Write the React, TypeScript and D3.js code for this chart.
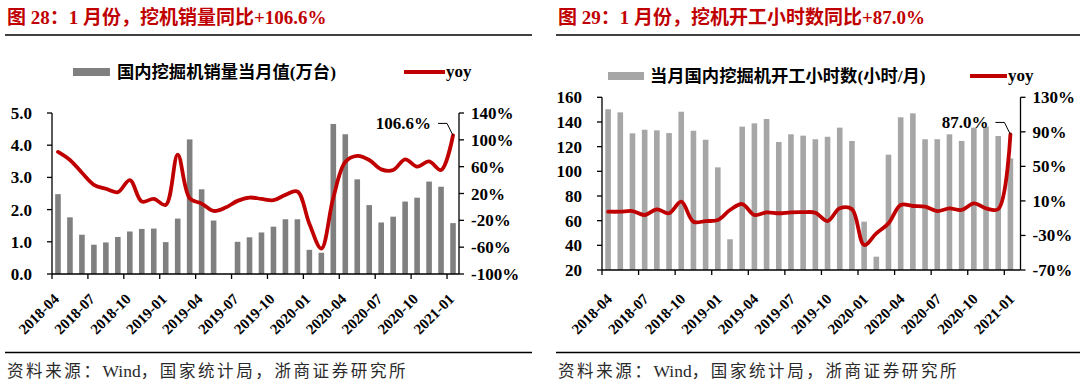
import React from 'react';
import * as d3 from 'd3';

const categories = [
  '2018-04','2018-05','2018-06','2018-07','2018-08','2018-09','2018-10','2018-11','2018-12',
  '2019-01','2019-02','2019-03','2019-04','2019-05','2019-06','2019-07','2019-08','2019-09','2019-10','2019-11','2019-12',
  '2020-01','2020-02','2020-03','2020-04','2020-05','2020-06','2020-07','2020-08','2020-09','2020-10','2020-11','2020-12',
  '2021-01'
];
const tickLabels = ['2018-04','2018-07','2018-10','2019-01','2019-04','2019-07','2019-10','2020-01','2020-04','2020-07','2020-10','2021-01'];

const salesValues: (number | null)[] = [2.48,1.76,1.22,0.91,0.98,1.15,1.32,1.40,1.41,0.99,1.72,4.18,2.63,1.66,null,1.00,1.14,1.29,1.47,1.70,1.70,0.75,0.66,4.66,4.34,2.94,2.14,1.60,1.78,2.25,2.37,2.87,2.71,1.58];
const salesYoy = [82,70,51,33,27,22,40,8,12,3,78,13,5,-6,-1,9,14,12,10,18,23,-25,-62,14,67,76,70,56,55,71,60,68,55,106.6];

const hoursValues: (number | null)[] = [150.3,147.8,130.8,133.7,133.2,131,148.3,132.9,125.6,103.2,44.9,136.2,138.9,142.4,123.8,130,128.9,126,128,135.4,124.6,59.2,30.8,113.5,143.8,147,126,126,130,124.6,135.4,136.2,128.6,110.5];
const hoursYoy = [-2.5,-2.5,-1.7,-6.3,0.3,-4.3,9.1,-14.1,-13.3,-12.1,-0.5,6.4,-6.3,-3.2,-4.3,-3.2,-3,-3.7,-13.3,1.4,0.5,-41,-27.5,-16,5.3,4.1,3.3,-1.7,1.4,-0.5,7.2,1.4,0.5,87.0];

const salesLeftTicks = [0,1,2,3,4,5];
const salesRightTicks = [-100,-60,-20,20,60,100,140];
const hoursLeftTicks = [20,40,60,80,100,120,140,160];
const hoursRightTicks = [-70,-30,10,50,90,130];

const RED = '#C00000';
const NUM_FONT = "'Liberation Serif','Times New Roman',serif";
const MIX_FONT = "'Liberation Serif','Noto Sans CJK SC',serif";
const CJK_FONT = "'Noto Sans CJK SC',sans-serif";

type PanelCfg = {
  title: string;
  legendText: string;
  barColor: string;
  values: (number | null)[];
  yoy: number[];
  leftTicks: number[];
  rightTicks: number[];
  leftDomain: [number, number];
  rightDomain: [number, number];
  leftFmt: (v: number) => string;
  xRange: [number, number];
  rightAxisX: number;
  yRange: [number, number];
  legendY: number;
  legendRect: [number, number];
  legendTextX: number;
  legendLine: [number, number];
  labelText: string;
  titleX: number;
  ruleX: [number, number];
  xLabelDx: number;
};

function Panel({ c }: { c: PanelCfg }) {
  const x = d3.scaleBand<string>().domain(categories).range(c.xRange).padding(0);
  const yL = d3.scaleLinear().domain(c.leftDomain).range(c.yRange);
  const yR = d3.scaleLinear().domain(c.rightDomain).range(c.yRange);
  const bw = x.bandwidth();
  const barW = 5.6;
  const cx = (cat: string) => (x(cat) as number) + bw / 2;
  const line = d3
    .line<number>()
    .x((_, i) => cx(categories[i]))
    .y((d) => yR(d))
    .curve(d3.curveCatmullRom.alpha(0.5));
  const leftX = c.xRange[0];
  const bottom = c.yRange[0];
  const lastCat = categories[categories.length - 1];
  const px = cx(lastCat);
  const py = yR(c.yoy[c.yoy.length - 1]);
  return (
    <g>
      <text x={c.titleX} y={24} fill={RED} fontFamily={MIX_FONT} fontWeight="bold" fontSize={19}>
        {c.title}
      </text>
      <line x1={c.ruleX[0]} x2={c.ruleX[1]} y1={35} y2={35} stroke="#000" strokeWidth={1.5} />
      {/* legend */}
      <rect x={c.legendRect[0]} y={c.legendY - 4} width={c.legendRect[1] - c.legendRect[0]} height={8} fill={c.barColor} />
      <text x={c.legendTextX} y={c.legendY + 6} fontFamily={MIX_FONT} fontWeight="bold" fontSize={17.3} fill="#000">
        {c.legendText}
      </text>
      <line x1={c.legendLine[0]} x2={c.legendLine[1]} y1={c.legendY} y2={c.legendY} stroke={RED} strokeWidth={4} />
      <text x={c.legendLine[1] + 1} y={c.legendY + 5} fontFamily={NUM_FONT} fontWeight="bold" fontSize={17} fill="#000">
        yoy
      </text>
      {/* bars */}
      {c.values.map((v, i) =>
        v == null ? null : (
          <rect key={i} x={cx(categories[i]) - barW / 2} y={yL(v)} width={barW} height={bottom - yL(v)} fill={c.barColor} />
        )
      )}
      {/* axes */}
      <line x1={leftX} x2={leftX} y1={bottom} y2={c.yRange[1]} stroke="#000" strokeWidth={1.3} />
      <line x1={c.rightAxisX} x2={c.rightAxisX} y1={bottom} y2={c.yRange[1]} stroke="#000" strokeWidth={1.3} />
      <line x1={leftX} x2={c.rightAxisX} y1={bottom} y2={bottom} stroke="#000" strokeWidth={1.3} />
      {c.leftTicks.map((t) => (
        <g key={'l' + t}>
          <line x1={leftX - 5} x2={leftX} y1={yL(t)} y2={yL(t)} stroke="#000" strokeWidth={1.3} />
          <text x={leftX - 20} y={yL(t) + 6} textAnchor="end" fontFamily={NUM_FONT} fontWeight="bold" fontSize={17}>
            {c.leftFmt(t)}
          </text>
        </g>
      ))}
      {c.rightTicks.map((t) => (
        <g key={'r' + t}>
          <line x1={c.rightAxisX} x2={c.rightAxisX + 5} y1={yR(t)} y2={yR(t)} stroke="#000" strokeWidth={1.3} />
          <text x={c.rightAxisX + 12} y={yR(t) + 6} textAnchor="start" fontFamily={NUM_FONT} fontWeight="bold" fontSize={17}>
            {t + '%'}
          </text>
        </g>
      ))}
      {tickLabels.map((lab) => {
        const tx = x(lab) as number;
        const lx = cx(lab) + c.xLabelDx;
        const ly = 300;
        return (
          <g key={'x' + lab}>
            <line x1={tx} x2={tx} y1={bottom} y2={bottom + 5} stroke="#000" strokeWidth={1.3} />
            <text
              x={lx}
              y={ly}
              textAnchor="end"
              transform={`rotate(-45 ${lx} ${ly})`}
              fontFamily={NUM_FONT}
              fontWeight="bold"
              fontSize={15}
            >
              {lab}
            </text>
          </g>
        );
      })}
      {/* yoy line */}
      <path d={line(c.yoy) || ''} fill="none" stroke={RED} strokeWidth={3.8} strokeLinejoin="round" strokeLinecap="round" />
      {/* annotation */}
      <polyline
        points={`${px - 15},${py - 12} ${px - 6},${py - 12} ${px},${py}`}
        fill="none"
        stroke="#000"
        strokeWidth={1}
      />
      <text x={px - 22} y={py - 6} textAnchor="end" fontFamily={NUM_FONT} fontWeight="bold" fontSize={17}>
        {c.labelText}
      </text>
      {/* source */}
      <line x1={c.ruleX[0]} x2={c.ruleX[1]} y1={352.5} y2={352.5} stroke="#000" strokeWidth={1.5} />
      <text x={c.titleX} y={377} fontSize={16.5} fill="#2a2a2a">
        <tspan fontFamily={CJK_FONT} letterSpacing={2.6}>资料来源：</tspan>
        <tspan fontFamily={NUM_FONT} fontSize={17.5}>Wind</tspan>
        <tspan fontFamily={CJK_FONT} letterSpacing={2.6}>，国家统计局，浙商证券研究所</tspan>
      </text>
    </g>
  );
}

const leftPanel: PanelCfg = {
  title: '图 28：1 月份，挖机销量同比+106.6%',
  legendText: '国内挖掘机销量当月值(万台)',
  barColor: '#808080',
  values: salesValues,
  yoy: salesYoy,
  leftTicks: salesLeftTicks,
  rightTicks: salesRightTicks,
  leftDomain: [0, 5],
  rightDomain: [-100, 140],
  leftFmt: (v) => v.toFixed(1),
  xRange: [52, 459],
  rightAxisX: 459,
  yRange: [274, 113],
  legendY: 72,
  legendRect: [73, 110],
  legendTextX: 117,
  legendLine: [404, 445],
  labelText: '106.6%',
  titleX: 7,
  ruleX: [5, 532],
  xLabelDx: 2,
};

const rightPanel: PanelCfg = {
  title: '图 29：1 月份，挖机开工小时数同比+87.0%',
  legendText: '当月国内挖掘机开工小时数(小时/月)',
  barColor: '#A6A6A6',
  values: hoursValues,
  yoy: hoursYoy,
  leftTicks: hoursLeftTicks,
  rightTicks: hoursRightTicks,
  leftDomain: [20, 160],
  rightDomain: [-70, 130],
  leftFmt: (v) => String(v),
  xRange: [602, 1016.5],
  rightAxisX: 1020.5,
  yRange: [270, 97.3],
  legendY: 76,
  legendRect: [608, 644],
  legendTextX: 650,
  legendLine: [970, 1007],
  labelText: '87.0%',
  titleX: 558,
  ruleX: [556, 1080],
  xLabelDx: 5,
};

export default function App() {
  return (
    <svg
      width={1080}
      height={383}
      viewBox="0 0 1080 383"
      style={{ position: 'absolute', left: 0, top: 0, background: '#fff' }}
    >
      <rect width={1080} height={383} fill="#fff" />
      <Panel c={leftPanel} />
      <Panel c={rightPanel} />
    </svg>
  );
}
